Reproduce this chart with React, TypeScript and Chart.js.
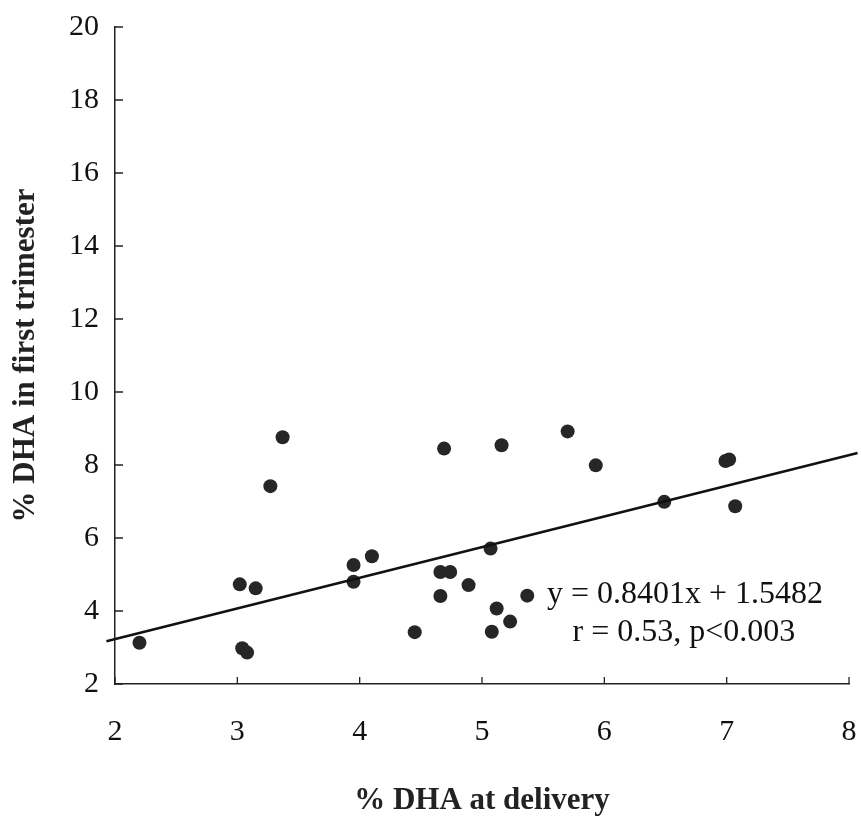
import React, { useEffect, useRef } from "react";
import { Chart, registerables } from "chart.js";

Chart.register(...registerables);

// % DHA at delivery (x) vs % DHA in first trimester (y)
const deliveryDHA = [2.2, 3.02, 3.15, 3.04, 3.08, 3.27, 3.37, 3.95, 3.95, 4.1, 4.69, 5.16, 5.7, 5.07, 4.66, 4.74, 4.89, 4.66, 5.37, 5.12, 5.23, 5.08, 4.45, 5.93, 6.99, 7.02, 6.49, 7.07];
const firstTrimesterDHA = [3.13, 4.73, 4.62, 2.98, 2.86, 7.42, 8.76, 5.26, 4.8, 5.5, 8.45, 8.54, 8.92, 5.71, 5.07, 5.07, 4.71, 4.41, 4.42, 4.07, 3.71, 3.43, 3.42, 7.99, 8.11, 8.15, 6.99, 6.87];

// Regression line y = slope * x + intercept, drawn over this x range
const slope = 0.8401;
const intercept = 1.5482;
const lineRange = [1.93, 8.07];

const xTitle = "% DHA at delivery";
const yTitle = "% DHA in first trimester";
const annotationLines = ["y = 0.8401x + 1.5482", "r = 0.53, p<0.003"];
const annotationAt = [
  { x: 6.66, y: 4.44 },
  { x: 6.65, y: 3.42 },
];

const FONT = "'Liberation Serif', 'Times New Roman', serif";

const inwardTicks = {
  id: "inwardTicks",
  afterDatasetsDraw(chart: any) {
    const { ctx, chartArea, scales } = chart;
    const xs = scales.x;
    const ys = scales.y;
    ctx.save();
    ctx.strokeStyle = "#222";
    ctx.lineWidth = 1.3;
    ctx.beginPath();
    xs.ticks.forEach((t: any) => {
      const px = xs.getPixelForValue(t.value);
      ctx.moveTo(px, chartArea.bottom);
      ctx.lineTo(px, chartArea.bottom - 7);
    });
    ys.ticks.forEach((t: any) => {
      const py = ys.getPixelForValue(t.value);
      ctx.moveTo(chartArea.left, py);
      ctx.lineTo(chartArea.left + 8, py);
    });
    ctx.stroke();

    ctx.fillStyle = "#111";
    ctx.font = `32px ${FONT}`;
    ctx.textAlign = "center";
    ctx.textBaseline = "middle";
    annotationLines.forEach((txt, i) => {
      const a = annotationAt[i];
      ctx.fillText(txt, xs.getPixelForValue(a.x), ys.getPixelForValue(a.y));
    });
    ctx.restore();
  },
};

export default function App() {
  const ref = useRef<HTMLCanvasElement | null>(null);

  useEffect(() => {
    if (!ref.current) return;
    const points = deliveryDHA.map((x, i) => ({ x, y: firstTrimesterDHA[i] }));
    const fit = lineRange.map((x) => ({ x, y: slope * x + intercept }));
    const chart = new Chart(ref.current, {
      type: "scatter",
      data: {
        datasets: [
          {
            label: "fit",
            type: "line",
            data: fit,
            borderColor: "#111",
            borderWidth: 2.5,
            pointRadius: 0,
            clip: false,
          } as any,
          {
            label: "points",
            data: points,
            backgroundColor: "#262626",
            borderWidth: 0,
            pointRadius: 7,
            pointHoverRadius: 7,
          },
        ],
      },
      options: {
        animation: false,
        responsive: false,
        maintainAspectRatio: false,
        layout: { autoPadding: false, padding: { left: 0, right: 12, top: 27, bottom: 0 } },
        plugins: { legend: { display: false }, tooltip: { enabled: false } },
        scales: {
          x: {
            type: "linear",
            min: 2,
            max: 8,
            afterFit: (s: any) => {
              s.height = 141;
              s.paddingLeft = 0;
              s.paddingRight = 0;
            },
            ticks: {
              stepSize: 1,
              padding: 30,
              color: "#111",
              font: { family: FONT, size: 30 },
            },
            grid: { display: false, drawTicks: false },
            border: { display: true, color: "#222", width: 1.5 },
            title: {
              display: true,
              text: xTitle,
              color: "#222",
              font: { family: FONT, size: 31, weight: "bold" },
              padding: { top: 0, bottom: 5 },
            },
          },
          y: {
            type: "linear",
            min: 2,
            max: 20,
            afterFit: (s: any) => {
              s.width = 115;
              s.paddingTop = 0;
              s.paddingBottom = 0;
            },
            ticks: {
              stepSize: 2,
              padding: 16,
              color: "#111",
              font: { family: FONT, size: 30 },
            },
            grid: { display: false, drawTicks: false },
            border: { display: true, color: "#222", width: 1.5 },
            title: {
              display: true,
              text: yTitle,
              color: "#222",
              font: { family: FONT, size: 31, weight: "bold" },
              padding: { top: 7, bottom: 0 },
            },
          },
        },
      },
      plugins: [inwardTicks],
    });
    return () => chart.destroy();
  }, []);

  return (
    <div style={{ position: "fixed", left: 0, top: 0, width: 861, height: 825, background: "#fff" }}>
      <canvas ref={ref} width={861} height={825} style={{ width: 861, height: 825, display: "block" }} />
    </div>
  );
}
